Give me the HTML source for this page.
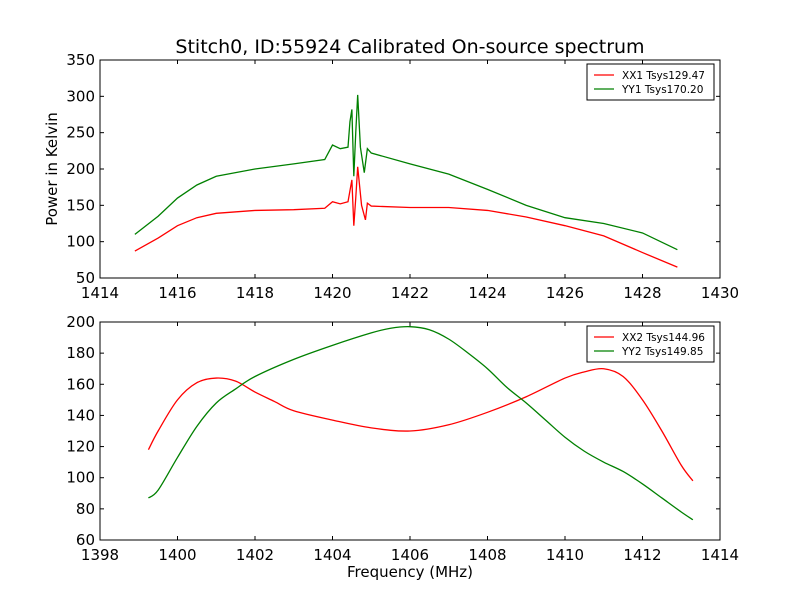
<!DOCTYPE html>
<html><head><meta charset="utf-8"><style>
body{margin:0;background:#fff}
svg text{font-family:"DejaVu Sans","Liberation Sans",sans-serif}
</style></head><body>
<svg id="c" width="800" height="600" xmlns="http://www.w3.org/2000/svg">
<rect width="800" height="600" fill="#fff"/>
<text x="410" y="53" font-size="19" text-anchor="middle">Stitch0, ID:55924 Calibrated On-source spectrum</text>
<text x="410" y="577" font-size="15" text-anchor="middle">Frequency (MHz)</text>
<text transform="translate(57,169) rotate(-90)" font-size="15" text-anchor="middle">Power in Kelvin</text>
</svg>
<script>
const topXTicks=[1414,1416,1418,1420,1422,1424,1426,1428,1430];
const topYTicks=[50,100,150,200,250,300,350];
const botXTicks=[1398,1400,1402,1404,1406,1408,1410,1412,1414];
const botYTicks=[60,80,100,120,140,160,180,200];
const xx1Freq=[1414.9,1415.5,1416,1416.5,1417,1418,1419,1419.8,1420,1420.2,1420.4,1420.5,1420.55,1420.6,1420.65,1420.75,1420.85,1420.9,1421,1422,1423,1424,1425,1426,1427,1428,1428.9];
const xx1Vals=[87,105,122,133,139,143,144,146,155,152,155,185,122,160,203,150,130,153,149,147,147,143,134,122,108,85,65];
const yy1Freq=[1414.9,1415.5,1416,1416.5,1417,1418,1419,1419.8,1420,1420.2,1420.4,1420.45,1420.5,1420.55,1420.6,1420.65,1420.72,1420.82,1420.9,1421,1422,1423,1424,1425,1426,1427,1428,1428.9];
const yy1Vals=[110,135,160,178,190,200,207,213,233,228,230,265,282,190,250,302,230,195,228,222,207,193,172,150,133,125,112,89];
const xx2Freq=[1399.25,1399.5,1400,1400.5,1401,1401.5,1402,1402.5,1403,1404,1405,1406,1407,1408,1409,1410,1410.5,1411,1411.5,1412,1412.5,1413,1413.3];
const xx2Vals=[118,130,150,161,164,162,155,149,143,137,132,130,134,142,152,164,168,170,165,150,130,108,98];
const yy2Freq=[1399.25,1399.5,1400,1400.5,1401,1401.5,1402,1403,1404,1405,1405.5,1406,1406.5,1407,1407.5,1408,1408.5,1409,1409.5,1410,1410.5,1411,1411.5,1412,1412.5,1413,1413.3];
const yy2Vals=[87,92,113,133,148,157,165,176,185,193,196,197,195,189,180,170,158,148,137,126,117,110,104,96,87,78,73];
const NS="http://www.w3.org/2000/svg",svg=document.getElementById('c');
function mk(t,a,p){const e=document.createElementNS(NS,t);for(const k in a)e.setAttribute(k,a[k]);(p||svg).appendChild(e);return e;}
function smoothPath(pts){
 let d='M'+pts[0][0]+','+pts[0][1];
 for(let i=0;i<pts.length-1;i++){
  const p0=pts[Math.max(0,i-1)],p1=pts[i],p2=pts[i+1],p3=pts[Math.min(pts.length-1,i+2)];
  const c1x=p1[0]+(p2[0]-p0[0])/6,c1y=p1[1]+(p2[1]-p0[1])/6;
  const c2x=p2[0]-(p3[0]-p1[0])/6,c2y=p2[1]-(p3[1]-p1[1])/6;
  d+=' C'+c1x+','+c1y+' '+c2x+','+c2y+' '+p2[0]+','+p2[1];
 }
 return d;
}
function panel(name,top,xt,yt,series,legend,smooth){
 const L=100,R=720,T=top,B=top+218;
 const x0=xt[0],x1=xt[xt.length-1],y0=yt[0],y1=yt[yt.length-1];
 const sx=v=>L+(v-x0)/(x1-x0)*(R-L), sy=v=>B-(v-y0)/(y1-y0)*(B-T);
 const g=mk('g',{});
 
 
 series.forEach(s=>{
  const pts=s.f.map((f,i)=>[sx(f),sy(s.v[i])]);
  let p;
  if(smooth){p=mk('path',{d:smoothPath(pts),fill:'none',stroke:s.c,'stroke-width':1.3},g);}
  else{p=mk('polyline',{points:pts.map(q=>q.join(',')).join(' '),fill:'none',stroke:s.c,'stroke-width':1.3},g);}
  
  
 });
 mk('rect',{x:L,y:T,width:R-L,height:B-T,fill:'none',stroke:'#000','stroke-width':1},g);
 xt.forEach(v=>{const X=sx(v);
  mk('line',{x1:X,x2:X,y1:B,y2:B-4,stroke:'#000'},g);mk('line',{x1:X,x2:X,y1:T,y2:T+4,stroke:'#000'},g);
  const t=mk('text',{x:X,y:B+20,'font-size':15,'text-anchor':'middle'},g);t.textContent=v;
  
  });
 yt.forEach(v=>{const Y=sy(v);
  mk('line',{x1:L,x2:L+4,y1:Y,y2:Y,stroke:'#000'},g);mk('line',{x1:R,x2:R-4,y1:Y,y2:Y,stroke:'#000'},g);
  const t=mk('text',{x:L-5,y:Y+5,'font-size':15,'text-anchor':'end'},g);t.textContent=v;
  
  });
 const lg=mk('g',{},g);
 
 
 mk('rect',{x:587,y:T+4,width:127,height:36,fill:'#fff',stroke:'#000','stroke-width':1},lg);
 series.forEach((s,i)=>{const Y=T+15+i*14;
  mk('line',{x1:594,x2:614,y1:Y,y2:Y,stroke:s.c,'stroke-width':1.3},lg);
  const t=mk('text',{x:622,y:Y+4,'font-size':10.5},lg);t.textContent=legend[i];
  
  });
}
panel('top-panel',60,topXTicks,topYTicks,[{f:xx1Freq,v:xx1Vals,c:'#ff0000',n:'xx1-line'},{f:yy1Freq,v:yy1Vals,c:'#008000',n:'yy1-line'}],['XX1 Tsys129.47','YY1 Tsys170.20'],false);
panel('bottom-panel',322,botXTicks,botYTicks,[{f:xx2Freq,v:xx2Vals,c:'#ff0000',n:'xx2-line'},{f:yy2Freq,v:yy2Vals,c:'#008000',n:'yy2-line'}],['XX2 Tsys144.96','YY2 Tsys149.85'],true);
</script>
</body></html>
